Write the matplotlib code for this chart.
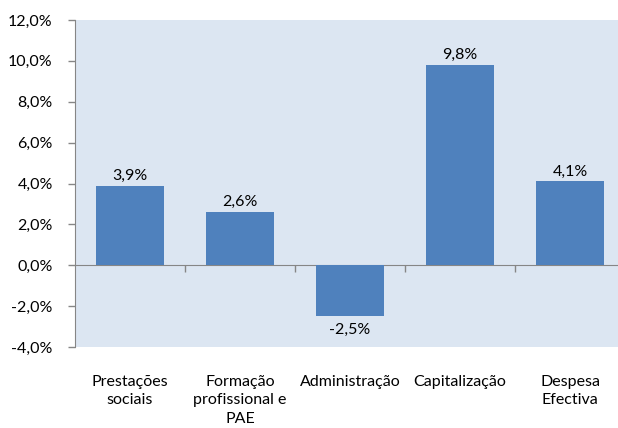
import matplotlib.pyplot as plt

# categories and yearly change (%)
categories = ['Prestações\nsociais', 'Formação\nprofissional e\nPAE', 'Administração',
              'Capitalização', 'Despesa\nEfectiva']
values = [3.9, 2.6, -2.5, 9.8, 4.1]
yticks = [-4, -2, 0, 2, 4, 6, 8, 10, 12]

plt.rcParams['font.family'] = ['Lato', 'DejaVu Sans']
FS = 11.5

fig = plt.figure(figsize=(6.18, 4.28), dpi=100)
W, H = 618, 428
ax = fig.add_axes([75 / W, 1 - 347 / H, 550 / W, 327 / H])
ax.set_facecolor('#DCE6F2')

x = range(len(values))
bars = ax.bar(x, values, width=0.62, color='#4F81BD', zorder=2)

def fmt(v):
    return f'{v:.1f}%'.replace('.', ',')

for b, v in zip(bars, values):
    cx = b.get_x() + b.get_width() / 2
    if v >= 0:
        ax.annotate(fmt(v), (cx, v), xytext=(0, 2), textcoords='offset points',
                    ha='center', va='bottom', fontsize=FS, color='#000000')
    else:
        ax.annotate(fmt(v), (cx, v), xytext=(0, -5), textcoords='offset points',
                    ha='center', va='top', fontsize=FS, color='#000000')

ax.set_xlim(-0.5, len(values) - 0.5)
ax.set_ylim(-4, 12)
ax.set_yticks(yticks)
ax.set_yticklabels([f'{t:.1f}%'.replace('.', ',') for t in yticks], fontsize=FS)

for s in ['top', 'right', 'bottom']:
    ax.spines[s].set_visible(False)
ax.spines['left'].set_color('#868686')
ax.tick_params(axis='y', length=5, width=1, color='#868686', pad=11)

ax.set_xticks(list(x))
ax.set_xticklabels(categories, fontsize=FS, linespacing=1.4)
ax.tick_params(axis='x', length=0, pad=20)

# zero line with category-boundary ticks
zero = ax.secondary_xaxis(4 / 16)
zero.set_xticks([i + 0.5 for i in range(len(values) - 1)])
zero.set_xticklabels([])
zero.tick_params(length=5, width=1, color='#868686')
zero.spines['bottom'].set_color('#868686')

fig.savefig('out.png', dpi=100)
